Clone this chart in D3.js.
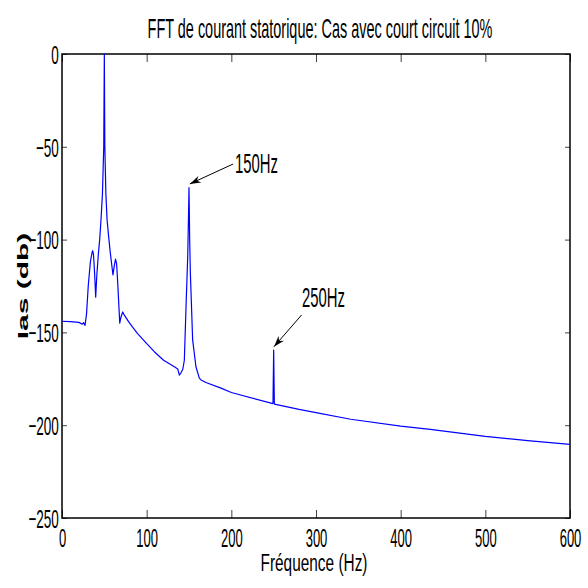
<!DOCTYPE html>
<html><head><meta charset="utf-8">
<script src="https://cdn.jsdelivr.net/npm/d3@7/dist/d3.min.js"></script>
<style>body{margin:0;background:#fff;}svg{display:block;}text{font-family:"Liberation Sans",Arial,sans-serif;fill:#000;}</style>
</head><body>
<svg id="c" width="588" height="588"></svg>
<script>
// ---- data ----
const freqHz = [0,10,20,24,25.5,27.2,29,31,33.5,35.5,36.2,37.2,38.5,39.8,41,42.9,44.5,46.1,47.8,49.3,50,50.6,51.8,53.2,55,57,60.2,61.8,63.2,64.5,66,68.2,69.5,71.7,74,79,89,99,109,120,132.7,136.7,138.6,140.2,142.6,144.5,146.5,148.5,149.3,150,150.8,151.6,154.3,158.2,162.2,164.2,170,187.8,200,249.2,250,250.8,280,300,341,400,435,500,550,600];
const magDb  = [-144,-144.2,-144.6,-145.6,-144.8,-146.2,-140,-125,-112,-107,-106,-108,-118,-131,-120,-108,-100,-89,-75,-50,0,-50,-75,-89,-98,-107,-119,-114,-110.5,-113,-125,-145,-142,-139,-141,-144.5,-150.5,-155.5,-160.4,-165,-168.5,-169.7,-173,-172,-170,-165,-136,-109,-90,-72,-100,-118,-154,-168.5,-174.6,-175.6,-177,-180,-182.4,-188.4,-159.5,-188.6,-191.5,-193.2,-196.8,-200.5,-202.3,-206,-208.3,-210.3];
const xTicks = [0,100,200,300,400,500,600];
const yTicks = [0,-50,-100,-150,-200,-250];
const titleText = "FFT de courant statorique: Cas avec court circuit 10%";
const xLabel = "Fréquence (Hz)";
const yLabel = "Ias (db)";
const annLabels = ["150Hz","250Hz"];
const annTip  = [[151,-70],[250.4,-157.7]];
const annTail = [[202,-59.3],[283,-140.6]];
const annText = [[204.3,-64.1],[283.5,-136.3]];

// ---- drawing ----
const svg = d3.select("#c");
const L=62, R=570, T=54, B=518;
const x = d3.scaleLinear().domain([0,600]).range([L,R]);
const y = d3.scaleLinear().domain([-250,0]).range([B,T]);

function fitText(g, str, size, width, cx, base, anchor){
  const t = g.append("text").text(str).attr("font-size",size).attr("text-anchor",anchor||"middle");
  const n = t.node().getComputedTextLength();
  t.attr("transform",`translate(${cx},${base}) scale(${width/n},1)`);
  return t;
}

// axes with inward ticks on all four sides
const gx = svg.append("g").attr("transform",`translate(0,${B})`)
  .call(d3.axisBottom(x).tickValues(xTicks).tickSize(-8).tickPadding(0).tickFormat(d3.format("d")));
const gxt = svg.append("g").attr("transform",`translate(0,${T})`)
  .call(d3.axisTop(x).tickValues(xTicks).tickSize(-8).tickFormat(""));
const gy = svg.append("g").attr("transform",`translate(${L},0)`)
  .call(d3.axisLeft(y).tickValues(yTicks).tickSize(-5).tickPadding(0).tickFormat(d3.format("d")));
const gyr = svg.append("g").attr("transform",`translate(${R},0)`)
  .call(d3.axisRight(y).tickValues(yTicks).tickSize(-5).tickFormat(""));
[gx,gxt,gy,gyr].forEach(g=>{
  g.select(".domain").remove();
  g.selectAll(".tick line").attr("stroke","#444").attr("stroke-width",1);
});
gx.selectAll(".tick text").attr("font-size",26).attr("font-family",null)
  .attr("y",29).attr("dy",0).attr("transform","scale(0.5,1)");
gy.selectAll(".tick text").attr("font-size",26).attr("font-family",null)
  .attr("x",-6).attr("dy","0.36em").attr("transform","scale(0.52,1)");

// box
svg.append("rect").attr("x",L).attr("y",T).attr("width",R-L).attr("height",B-T)
  .attr("fill","none").attr("stroke","#000").attr("stroke-width",1.5);

// curve
const line = d3.line().x((d,i)=>x(freqHz[i])).y((d,i)=>y(magDb[i]));
svg.append("path").datum(magDb).attr("d",line)
  .attr("fill","none").attr("stroke","#0000ff").attr("stroke-width",1.2).attr("stroke-linejoin","round");

// title and labels
fitText(svg, titleText, 27, 345, 320, 38);
fitText(svg, xLabel, 24, 107, 314, 571);
svg.append("text").text(yLabel).attr("font-size",30).attr("font-weight","bold").attr("text-anchor","middle")
  .attr("transform","translate(28,286) scale(0.5,1) rotate(-90)");

// annotations
annLabels.forEach((lab,i)=>{
  const tx=x(annTip[i][0]), ty=y(annTip[i][1]);
  const sx=x(annTail[i][0]), sy=y(annTail[i][1]);
  svg.append("line").attr("x1",sx).attr("y1",sy).attr("x2",tx).attr("y2",ty)
    .attr("stroke","#000").attr("stroke-width",1);
  const a=Math.atan2(ty-sy,tx-sx), len=11, w=3.6;
  const bx=tx-len*Math.cos(a), by=ty-len*Math.sin(a);
  const nx=-Math.sin(a), ny=Math.cos(a);
  const mx=tx-len*0.7*Math.cos(a), my=ty-len*0.7*Math.sin(a);
  svg.append("path").attr("d",`M${tx},${ty}L${bx+nx*w},${by+ny*w}L${mx},${my}L${bx-nx*w},${by-ny*w}Z`)
    .attr("fill","#000");
  fitText(svg, lab, 27, 43, x(annText[i][0]), y(annText[i][1]), "start");
});
</script>
</body></html>
